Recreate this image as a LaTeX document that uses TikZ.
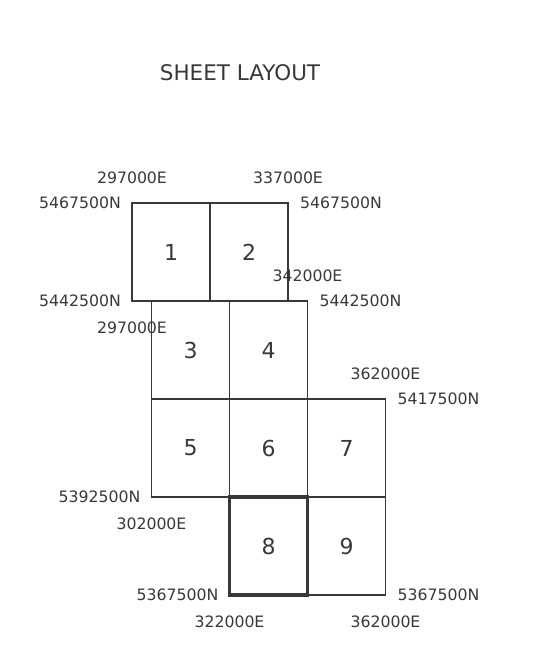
\documentclass[tikz,border=0pt]{standalone}
\usepackage{fontspec}
\setmainfont{DejaVu Sans}
\tikzset{
    sheet/.style={rectangle, draw=black!78, line width=1.6pt, minimum width=78pt, minimum height=98pt, inner sep=0pt, outer sep=0pt, text=black!78, font=\fontsize{22}{26}\selectfont},
    key sheet/.style={sheet, line width=3.6pt},
    grid label/.style={inner sep=0pt, text=black!78, font=\fontsize{15.7}{18}\selectfont},
    northing left/.style={grid label, anchor=east, xshift=-11pt},
    northing right/.style={grid label, anchor=west, xshift=12pt},
    easting above/.style={grid label, yshift=25pt},
    easting below/.style={grid label, yshift=-27pt},
    title/.style={inner sep=0pt, text=black!78, font=\fontsize{21.5}{26}\selectfont}
}
\begin{document}
\begin{tikzpicture}[x=78pt, y=98pt]
    \useasboundingbox (-132pt,-58pt) rectangle (401pt,595pt);
    \node[title] (title) at (108pt,522pt) {SHEET LAYOUT};

    \node[sheet] (s1) at (0.5,3.5) {1};
    \node[sheet] (s2) at (1.5,3.5) {2};
    \node[sheet] (s3) at (0.75,2.5) {3};
    \node[sheet] (s4) at (1.75,2.5) {4};
    \node[sheet] (s5) at (0.75,1.5) {5};
    \node[sheet] (s6) at (1.75,1.5) {6};
    \node[sheet] (s7) at (2.75,1.5) {7};
    \node[sheet] (s9) at (2.75,0.5) {9};
    \node[key sheet] (s8) at (1.75,0.5) {8};

    \node[easting above] (e297a) at (s1.north west) {297000E};
    \node[northing left] (n467a) at (s1.north west) {5467500N};
    \node[easting above] (e337) at (s2.north east) {337000E};
    \node[northing right] (n467b) at (s2.north east) {5467500N};
    \node[northing left] (n442a) at (s1.south west) {5442500N};
    \node[easting below] (e297b) at (s1.south west) {297000E};
    \node[easting above] (e342) at (s4.north east) {342000E};
    \node[northing right] (n442b) at (s4.north east) {5442500N};
    \node[easting above] (e362a) at (s7.north east) {362000E};
    \node[northing right] (n417) at (s7.north east) {5417500N};
    \node[northing left] (n392) at (s5.south west) {5392500N};
    \node[easting below] (e302) at (s5.south west) {302000E};
    \node[northing left] (n367a) at (s8.south west) {5367500N};
    \node[easting below] (e322) at (s8.south west) {322000E};
    \node[northing right] (n367b) at (s9.south east) {5367500N};
    \node[easting below] (e362b) at (s9.south east) {362000E};
\end{tikzpicture}
\end{document}
